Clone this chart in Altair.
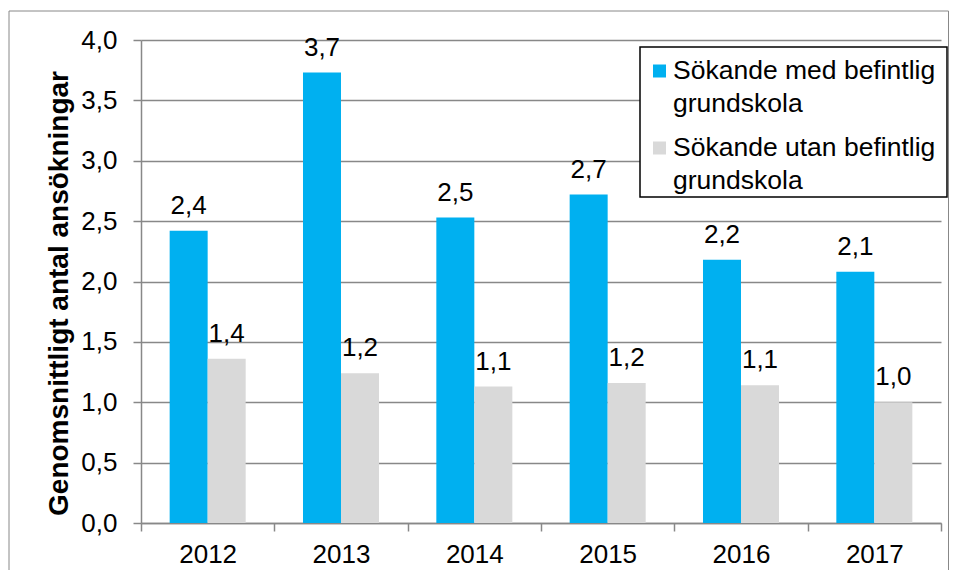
import altair as alt
import pandas as pd

years = ["2012", "2013", "2014", "2015", "2016", "2017"]
series = ["Sökande med befintlig grundskola", "Sökande utan befintlig grundskola"]
legend_lines = ["Sökande med befintlig\ngrundskola", "Sökande utan befintlig\ngrundskola"]
med_values = [2.42, 3.73, 2.53, 2.72, 2.18, 2.08]
utan_values = [1.36, 1.24, 1.13, 1.16, 1.14, 1.00]
colors = ["#00B0F0", "#D9D9D9"]
y_ticks = [0.0, 0.5, 1.0, 1.5, 2.0, 2.5, 3.0, 3.5, 4.0]
y_title = "Genomsnittligt antal ansökningar"

rows = []
for yr, m, u in zip(years, med_values, utan_values):
    rows.append({"year": yr, "series": series[0], "value": m})
    rows.append({"year": yr, "series": series[1], "value": u})
df = pd.DataFrame(rows)
df["label"] = df["value"].map(lambda v: format(v, ".1f").replace(".", ","))

FONT = "Liberation Sans"
GRID = "#888888"

x_enc = alt.X(
    "year:N",
    sort=years,
    scale=alt.Scale(paddingInner=0, paddingOuter=0),
    axis=alt.Axis(
        title=None, labelAngle=0, tickBand="extent", grid=False,
        tickSize=8, labelPadding=10, labelFontSize=26, labelColor="#000000",
        domainColor=GRID, tickColor=GRID, domainWidth=1.5, tickWidth=1.5,
    ),
)
xo_enc = alt.XOffset("series:N", sort=series,
                     scale=alt.Scale(domain=series, paddingOuter=0.754, paddingInner=0))
y_enc = alt.Y(
    "value:Q",
    scale=alt.Scale(domain=[0, 4], nice=False, zero=True),
    axis=alt.Axis(
        values=y_ticks, title=y_title,
        labelExpr="replace(format(datum.value, '.1f'), '.', ',')",
        tickSize=8, labelPadding=16, labelFontSize=26, labelColor="#000000",
        grid=True, gridColor=GRID, gridWidth=1.5,
        domainColor=GRID, tickColor=GRID, domainWidth=1.5, tickWidth=1.5,
        titleFontSize=28, titleFontWeight="bold", titleColor="#000000",
        titleAngle=270, titleAlign="center", titleBaseline="alphabetic",
        titleX=-74, titleY=253,
    ),
)
color_enc = alt.Color("series:N", sort=series,
                      scale=alt.Scale(domain=series, range=colors), legend=None)

base = alt.Chart(df).encode(x=x_enc, xOffset=xo_enc, y=y_enc)
bars = base.mark_bar(size=38).encode(color=color_enc)
labels = base.mark_text(baseline="alphabetic", dy=-17, fontSize=26, font=FONT,
                        color="#000000").encode(text="label:N")

one = pd.DataFrame({"k": [0]})
border = alt.Chart(one).mark_rect(fillOpacity=0, stroke=GRID, strokeWidth=1).encode(
    x=alt.value(-132), x2=alt.value(807.5), y=alt.value(-29), y2=alt.value(600)
)
legend_box = alt.Chart(one).mark_rect(fill="#FFFFFF", stroke="#000000", strokeWidth=1.5).encode(
    x=alt.value(499), x2=alt.value(806), y=alt.value(7), y2=alt.value(157)
)
legend_layers = [legend_box]
for i, (txt, col) in enumerate(zip(legend_lines, colors)):
    legend_layers.append(
        alt.Chart(one).mark_square(size=169, opacity=1, color=col).encode(
            x=alt.value(518.5), y=alt.value(31 + i * 77)
        )
    )
    legend_layers.append(
        alt.Chart(pd.DataFrame({"t": [txt]})).mark_text(
            align="left", baseline="alphabetic", fontSize=26.5, font=FONT,
            lineBreak="\n", lineHeight=33, color="#000000"
        ).encode(x=alt.value(532), y=alt.value(39 + i * 77), text="t:N")
    )

chart = alt.layer(bars, labels, border, *legend_layers).properties(
    width=800, height=483,
    autosize=alt.AutoSizeParams(type="none"),
    padding={"left": 133, "top": 32, "right": 8, "bottom": 47},
).configure(font=FONT).configure_view(stroke=None)

chart.save("out.html", embed_options={"renderer": "svg", "actions": False})
